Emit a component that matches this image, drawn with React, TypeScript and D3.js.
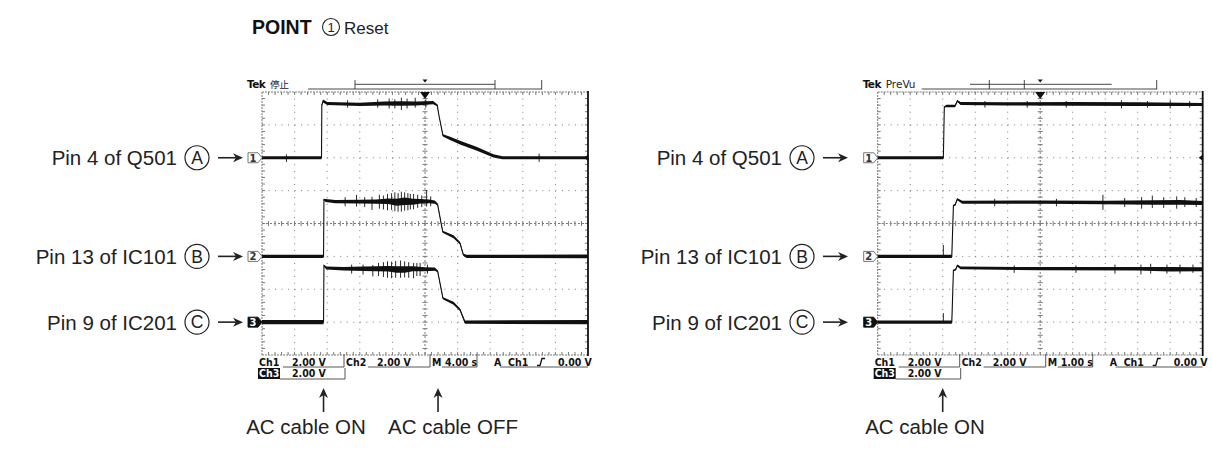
import React from "react";
import * as d3 from "d3";

// ---------- data ----------
// each trace point: [time (s), volts above channel ground, noise half-width (px)]
type P = [number, number, number];
type S = [number, number, number]; // spike: [time, vLow, vHigh]

const TITLE_BOLD = "POINT";
const TITLE_NUM = "1";
const TITLE_REST = "Reset";

const PIN_LABELS = ["Pin 4 of Q501", "Pin 13 of IC101", "Pin 9 of IC201"];
const PIN_LETTERS = ["A", "B", "C"];
const CH_NUMS = ["1", "2", "3"];
const CH_GROUND_DIV = [2, 5, 7]; // divisions from top of screen

const LEFT_SEC_PER_DIV = 4;
const RIGHT_SEC_PER_DIV = 1;

const L_CH1: P[] = [
  [0, 0, 1.6], [7.3, 0, 1.6], [7.34, 3.2, 0.8], [7.5, 3.45, 1.5], [8, 3.3, 1.6], [12, 3.25, 1.7],
  [15, 3.3, 1.9], [17, 3.3, 2.3], [19, 3.3, 2], [21, 3.35, 1.6], [21.5, 3.2, 1], [21.7, 2.6, 0.6],
  [22.2, 1.36, 1.2], [23, 1.2, 1.6], [24.3, 0.92, 1.9], [26.3, 0.56, 1.9], [28.4, 0.11, 1.6],
  [29.5, 0, 1.6], [40, 0, 1.6],
];
const L_CH2: P[] = [
  [0, 0, 1.6], [7.55, 0, 1.6], [7.6, 3.45, 0.8], [7.8, 3.4, 1.5], [9, 3.33, 1.6], [12, 3.33, 1.8],
  [14, 3.33, 2.2], [15.5, 3.35, 2.8], [16.5, 3.3, 3.5], [17.5, 3.35, 3.8], [18.5, 3.33, 3], [19.5, 3.35, 2.2],
  [20.5, 3.35, 1.9], [21.2, 3.3, 1.6], [21.55, 3.15, 1], [22.17, 1.5, 1], [23.5, 1.2, 1.5], [24.3, 0.8, 1.2],
  [24.7, 0.1, 1], [25.1, 0, 1.6], [40, 0, 1.8],
];
const L_CH3: P[] = [
  [0, 0, 2.2], [7.55, 0, 2.2], [7.6, 3.44, 0.8], [7.9, 3.3, 1.5], [10, 3.25, 1.8], [12.5, 3.25, 2.2],
  [14, 3.25, 2.5], [15.5, 3.25, 2.8], [16.5, 3.2, 3.2], [17.5, 3.2, 3.2], [18.5, 3.25, 2.5], [20, 3.22, 2],
  [21.2, 3.22, 1.6], [21.55, 3.1, 1], [22.2, 1.46, 1], [23.5, 1.15, 1.5], [24.3, 0.75, 1.2],
  [24.9, 0, 1.6], [40, 0, 2.2],
];
const L_CH1_SPIKES: S[] = [
  [3.0, -0.25, 0.2], [10.5, 3.05, 3.5], [14.2, 3.05, 3.55], [15.6, 3.0, 3.6], [16.3, 3.0, 3.55],
  [17.1, 2.9, 3.65], [17.8, 3.0, 3.6], [18.8, 3.05, 3.65], [20.1, 3.05, 3.55], [34, -0.25, 0.25],
];
const L_CH2_SPIKES: S[] = [
  [10.2, 3.05, 3.6], [11.6, 3.03, 3.74], [12.6, 3.0, 3.6], [13.5, 2.83, 3.63], [14.4, 2.9, 3.75],
  [14.9, 2.85, 3.7], [15.4, 2.8, 3.8], [15.9, 2.83, 3.84], [16.3, 2.75, 3.9], [16.7, 2.72, 3.85],
  [17.1, 2.72, 3.94], [17.5, 2.78, 3.9], [17.9, 2.8, 3.85], [18.2, 2.85, 3.8], [18.6, 2.87, 3.8],
  [19.1, 2.95, 3.75], [19.6, 3.0, 3.7], [20.2, 3.03, 4.04], [20.7, 3.05, 3.65],
];
const L_CH3_SPIKES: S[] = [
  [11.0, 2.95, 3.5], [12.4, 2.9, 3.5], [13.6, 2.78, 3.48], [14.3, 2.8, 3.6], [14.9, 2.75, 3.65],
  [15.4, 2.7, 3.7], [15.9, 2.67, 3.68], [16.4, 2.7, 3.72], [17.0, 2.7, 3.75], [17.5, 2.72, 3.7],
  [18.0, 2.7, 3.65], [18.6, 2.67, 3.6], [19.0, 2.8, 3.6], [19.4, 2.8, 3.6], [20.3, 2.95, 3.5],
];

const R_CH1: P[] = [
  [0, 0, 1.6], [2.02, 0, 1.6], [2.05, 3.1, 0.6], [2.12, 3.15, 1.2], [2.38, 3.15, 1.2], [2.45, 3.45, 1],
  [2.55, 3.3, 1.5], [4, 3.28, 1.6], [6, 3.28, 1.8], [8, 3.26, 1.8], [10, 3.24, 1.6],
];
const R_CH2: P[] = [
  [0, 0, 1.6], [2.28, 0, 1.6], [2.33, 3.1, 0.6], [2.38, 3.13, 1], [2.45, 3.48, 1], [2.6, 3.3, 1.5],
  [5, 3.3, 1.6], [7, 3.28, 1.8], [8.5, 3.28, 2.2], [9.3, 3.28, 2.4], [10, 3.25, 2],
];
const R_CH3: P[] = [
  [0, 0, 1.6], [2.28, 0, 1.6], [2.33, 3.15, 0.6], [2.4, 3.2, 1], [2.45, 3.44, 1], [2.55, 3.3, 1.3],
  [5, 3.25, 1.6], [8, 3.25, 1.8], [9, 3.22, 2.2], [10, 3.22, 2],
];
const R_CH1_SPIKES: S[] = [
  [3.3, 3.05, 3.45], [4.6, 3.05, 3.45], [5.8, 3.05, 3.45], [7.5, 3.0, 3.5], [8.3, 3.05, 3.45],
  [9.0, 3.0, 3.5], [9.6, 3.05, 3.45],
];
const R_CH2_SPIKES: S[] = [
  [2.02, 0, 0.7], [3.6, 3.05, 3.5], [5.5, 3.05, 3.5], [6.93, 2.83, 3.74], [7.6, 3.0, 3.55],
  [8.12, 2.9, 3.6], [8.45, 2.95, 3.7], [8.8, 2.95, 3.6], [9.2, 2.9, 3.65], [9.45, 3.0, 3.6], [9.8, 3.0, 3.55],
];
const R_CH3_SPIKES: S[] = [
  [2.02, 0, 0.55], [4.2, 3.0, 3.45], [6.1, 3.0, 3.45], [7.3, 2.95, 3.5], [8.1, 2.9, 3.5],
  [8.4, 2.95, 3.55], [8.9, 2.95, 3.5], [9.3, 2.95, 3.5], [9.7, 3.0, 3.5],
];

const LEFT_HEADER = "停止";
const RIGHT_HEADER = "PreVu";
const READ_CH_VOLTS = ["2.00 V", "2.00 V", "2.00 V"];
const LEFT_TIME = "4.00 s";
const RIGHT_TIME = "1.00 s";
const TRIG_LEVEL = "0.00 V";

const LEFT_EVENTS = [
  { t: 7.55, label: "AC cable ON", lx: 306 },
  { t: 21.6, label: "AC cable OFF", lx: 453 },
];
const RIGHT_EVENTS = [{ t: 2.0, label: "AC cable ON", lx: 925 }];

// ---------- layout ----------
const SANS = "'Liberation Sans', Arial, Helvetica, sans-serif";
const TEKF = "'DejaVu Sans', Verdana, sans-serif";
const TEKC = "'DejaVu Sans Condensed', 'DejaVu Sans', Verdana, sans-serif";

interface ScopeCfg {
  x0: number; y0: number; w: number; h: number; secPerDiv: number;
  traces: P[][]; spikes: S[][]; header: string; time: string;
  bracket: [number, number]; upper: [number, number]; longLine: [number, number];
  events: { t: number; label: string; lx: number }[];
  labelEnd: number; circleX: number; arrow: [number, number];
}

const LEFT: ScopeCfg = {
  x0: 262, y0: 92, w: 326, h: 263, secPerDiv: LEFT_SEC_PER_DIV,
  traces: [L_CH1, L_CH2, L_CH3], spikes: [L_CH1_SPIKES, L_CH2_SPIKES, L_CH3_SPIKES],
  header: LEFT_HEADER, time: LEFT_TIME,
  bracket: [355, 495], upper: [355, 495], longLine: [308, 541.7],
  events: LEFT_EVENTS, labelEnd: 177, circleX: 197, arrow: [218, 243],
};
const RIGHT: ScopeCfg = {
  x0: 877.7, y0: 92, w: 325, h: 263, secPerDiv: RIGHT_SEC_PER_DIV,
  traces: [R_CH1, R_CH2, R_CH3], spikes: [R_CH1_SPIKES, R_CH2_SPIKES, R_CH3_SPIKES],
  header: RIGHT_HEADER, time: RIGHT_TIME,
  bracket: [989.3, 1024.3], upper: [970, 1111.7], longLine: [921.7, 1156.7],
  events: RIGHT_EVENTS, labelEnd: 782, circleX: 802, arrow: [823, 848],
};

function Arrow({ x1, x2, y }: { x1: number; x2: number; y: number }) {
  return (
    <g>
      <line x1={x1} x2={x2 - 7} y1={y} y2={y} stroke="#222" strokeWidth={1.6} />
      <path d={`M${x2},${y} L${x2 - 10},${y - 4.5} L${x2 - 7},${y} L${x2 - 10},${y + 4.5} Z`} fill="#222" />
    </g>
  );
}

function UpArrow({ x, y1, y2 }: { x: number; y1: number; y2: number }) {
  return (
    <g>
      <line x1={x} x2={x} y1={y2} y2={y1 + 7} stroke="#222" strokeWidth={1.6} />
      <path d={`M${x},${y1} L${x - 4.5},${y1 + 10} L${x},${y1 + 7} L${x + 4.5},${y1 + 10} Z`} fill="#222" />
    </g>
  );
}

function Scope({ c }: { c: ScopeCfg }) {
  const { x0, y0, w, h } = c;
  const dw = w / 10, dh = h / 8;
  const x = d3.scaleLinear().domain([0, 10 * c.secPerDiv]).range([x0, x0 + w]);
  const grid = "#7a7a7a";
  const els: React.ReactNode[] = [];

  // dotted grid lines
  for (let i = 1; i < 10; i++) {
    if (i === 5) continue;
    const gx = x0 + i * dw;
    els.push(<line key={"gv" + i} x1={gx} x2={gx} y1={y0} y2={y0 + h} stroke={grid} strokeWidth={1} strokeDasharray={`1 ${dh / 5 - 1}`} />);
  }
  for (let j = 1; j < 8; j++) {
    if (j === 4) continue;
    const gy = y0 + j * dh;
    els.push(<line key={"gh" + j} x1={x0} x2={x0 + w} y1={gy} y2={gy} stroke={grid} strokeWidth={1} strokeDasharray={`1 ${dw / 5 - 1}`} />);
  }
  // center cross with ticks
  const cx = x0 + 5 * dw, cy = y0 + 4 * dh;
  els.push(<line key="cx" x1={cx} x2={cx} y1={y0} y2={y0 + h} stroke={grid} strokeWidth={1} strokeDasharray="2 2" />);
  els.push(<line key="cy" x1={x0} x2={x0 + w} y1={cy} y2={cy} stroke={grid} strokeWidth={1} strokeDasharray="2 2" />);
  for (let k = 1; k < 50; k++) {
    const tx = x0 + (k * dw) / 5;
    els.push(<line key={"tcy" + k} x1={tx} x2={tx} y1={cy - 2.5} y2={cy + 2.5} stroke={grid} strokeWidth={1} />);
    els.push(<line key={"ttop" + k} x1={tx} x2={tx} y1={y0} y2={y0 + 3} stroke={grid} strokeWidth={1} />);
    els.push(<line key={"tbot" + k} x1={tx} x2={tx} y1={y0 + h - 3} y2={y0 + h} stroke={grid} strokeWidth={1} />);
  }
  for (let k = 1; k < 40; k++) {
    const ty = y0 + (k * dh) / 5;
    els.push(<line key={"tcx" + k} x1={cx - 2.5} x2={cx + 2.5} y1={ty} y2={ty} stroke={grid} strokeWidth={1} />);
    els.push(<line key={"tl" + k} x1={x0} x2={x0 + 3} y1={ty} y2={ty} stroke={grid} strokeWidth={1} />);
    els.push(<line key={"tr" + k} x1={x0 + w - 3} x2={x0 + w} y1={ty} y2={ty} stroke={grid} strokeWidth={1} />);
  }
  // frame
  els.push(<line key="ft" x1={x0} x2={x0 + w} y1={y0} y2={y0} stroke={grid} strokeWidth={1} strokeDasharray="2 1" />);
  els.push(<line key="fb" x1={x0} x2={x0 + w} y1={y0 + h} y2={y0 + h} stroke={grid} strokeWidth={1} strokeDasharray="2 1" />);
  els.push(<line key="fl" x1={x0} x2={x0} y1={y0} y2={y0 + h} stroke={grid} strokeWidth={1} strokeDasharray="2 1" />);
  els.push(<line key="fr" x1={x0 + w} x2={x0 + w} y1={y0 - 1} y2={y0 + h + 1} stroke="#111" strokeWidth={1.8} />);

  // traces
  c.traces.forEach((tr, i) => {
    const g = y0 + CH_GROUND_DIV[i] * dh;
    const y = d3.scaleLinear().domain([0, 2]).range([g, g - dh]);
    const area = d3.area<P>().x((d) => x(d[0])).y0((d) => y(d[1]) + d[2]).y1((d) => y(d[1]) - d[2]);
    const line = d3.line<P>().x((d) => x(d[0])).y((d) => y(d[1]));
    els.push(<path key={"ta" + i} d={area(tr) || ""} fill="#111" />);
    els.push(<path key={"tl" + i} d={line(tr) || ""} fill="none" stroke="#111" strokeWidth={1.1} />);
    c.spikes[i].forEach((s, k) => {
      els.push(<line key={`sp${i}-${k}`} x1={x(s[0])} x2={x(s[0])} y1={y(s[1])} y2={y(s[2])} stroke="#111" strokeWidth={0.9} />);
    });
    // channel marker
    const mx = x0 - 14;
    const filled = i === 2;
    els.push(
      <path key={"mk" + i} d={`M${mx},${g - 5} L${x0 - 4},${g - 5} L${x0},${g} L${x0 - 4},${g + 5} L${mx},${g + 5} Z`}
        fill={filled ? "#111" : "#fff"} stroke={filled ? "#111" : "#666"} strokeWidth={0.9} />
    );
    els.push(
      <text key={"mt" + i} x={mx + 5} y={g + 3.8} fontFamily={TEKF} fontSize={10} fontWeight={700} textAnchor="middle"
        fill={filled ? "#fff" : "#333"}>{CH_NUMS[i]}</text>
    );
    // left labels
    const ly = g;
    els.push(<text key={"lb" + i} x={c.labelEnd} y={ly + 7.5} fontFamily={SANS} fontSize={20.5} textAnchor="end" fill="#222">{PIN_LABELS[i]}</text>);
    els.push(<circle key={"lc" + i} cx={c.circleX} cy={ly} r={12} fill="none" stroke="#222" strokeWidth={1.2} />);
    els.push(<text key={"ll" + i} x={c.circleX} y={ly + 6.3} fontFamily={SANS} fontSize={17.5} textAnchor="middle" fill="#222">{PIN_LETTERS[i]}</text>);
    els.push(<Arrow key={"la" + i} x1={c.arrow[0]} x2={c.arrow[1]} y={ly} />);
  });

  // trigger markers
  els.push(<path key="trig" d={`M${cx - 5},${y0} L${cx + 5},${y0} L${cx},${y0 + 7} Z`} fill="#111" />);
  const g1 = y0 + CH_GROUND_DIV[0] * dh;
  els.push(<path key="tlev" d={`M${x0 + w - 4},${g1} L${x0 + w + 0.5},${g1 - 3.5} L${x0 + w + 0.5},${g1 + 3.5} Z`} fill="#111" />);

  // header
  els.push(<text key="tek" x={x0 - 15} y={88} fontFamily={TEKF} fontSize={10.5} fontWeight={700} letterSpacing={-0.6} fill="#111">Tek</text>);
  els.push(
    <text key="hdr" x={x0 + 8} y={88} fontFamily={c.header === LEFT_HEADER ? "'Noto Sans CJK JP', sans-serif" : TEKF}
      fontSize={c.header === LEFT_HEADER ? 9.5 : 10.5} fill="#222">{c.header}</text>
  );
  els.push(<line key="ll1" x1={c.longLine[0]} x2={c.longLine[1]} y1={89} y2={89} stroke="#333" strokeWidth={0.9} />);
  els.push(<line key="ll2" x1={c.longLine[1]} x2={c.longLine[1]} y1={80} y2={89.5} stroke="#333" strokeWidth={0.9} />);
  els.push(<line key="up" x1={c.upper[0]} x2={c.upper[1]} y1={84.3} y2={84.3} stroke="#333" strokeWidth={0.9} />);
  els.push(<line key="b1" x1={c.bracket[0]} x2={c.bracket[0]} y1={80} y2={89} stroke="#333" strokeWidth={0.9} />);
  els.push(<line key="b2" x1={c.bracket[1]} x2={c.bracket[1]} y1={80} y2={89} stroke="#333" strokeWidth={0.9} />);
  els.push(<path key="btri" d={`M${cx - 2.5},${79.5} L${cx + 2.5},${79.5} L${cx},${82.5} Z`} fill="#111" />);

  // readout
  const r1 = 365.5, u1 = 367, r2 = 377, u2 = 379;
  const rt = (key: string, tx: number, ty: number, s: string, fill = "#111") => (
    <text key={key} x={tx} y={ty} fontFamily={TEKC} fontSize={10.5} fontWeight={700} fill={fill}>{s}</text>
  );
  const ln = (key: string, a: number, b: number, yy: number) => (
    <line key={key} x1={a} x2={b} y1={yy} y2={yy} stroke="#444" strokeWidth={0.9} />
  );
  const vb = (key: string, xx: number, ya: number, yb: number) => (
    <line key={key} x1={xx} x2={xx} y1={ya} y2={yb} stroke="#444" strokeWidth={0.9} />
  );
  els.push(rt("rc1", x0 - 3, r1, "Ch1"));
  els.push(rt("rv1", x0 + 30, r1, READ_CH_VOLTS[0]));
  els.push(ln("ru1", x0 + 21, x0 + 82, u1));
  els.push(vb("rb1", x0 + 82, 354, u1));
  els.push(rt("rc2", x0 + 84, r1, "Ch2"));
  els.push(rt("rv2", x0 + 115, r1, READ_CH_VOLTS[1]));
  els.push(ln("ru2", x0 + 106, x0 + 168, u1));
  els.push(vb("rb2", x0 + 168, 354, u1));
  els.push(rt("rm", x0 + 170, r1, "M"));
  els.push(rt("rtm", x0 + 183, r1, c.time));
  els.push(ln("ru3", x0 + 180, x0 + 215, u1));
  els.push(vb("rb3", x0 + 215, 354, u1));
  els.push(rt("ra", x0 + 232, r1, "A"));
  els.push(rt("rac", x0 + 246, r1, "Ch1"));
  els.push(
    <path key="rslope" d={`M${x0 + 275},${r1} L${x0 + 278},${r1} L${x0 + 280},${r1 - 7} L${x0 + 283},${r1 - 7}`} fill="none" stroke="#111" strokeWidth={1.3} />
  );
  els.push(rt("rlev", x0 + 296, r1, TRIG_LEVEL));
  els.push(ln("ru4", x0 + 238, x0 + w, u1));
  els.push(<rect key="c3bg" x={x0 - 4} y={368} width={22} height={11} fill="#111" />);
  els.push(rt("rc3", x0 - 3, r2, "Ch3", "#fff"));
  els.push(rt("rv3", x0 + 30, r2, READ_CH_VOLTS[2]));
  els.push(ln("ru5", x0 + 18, x0 + 83, u2));
  els.push(vb("rb5", x0 + 83, 368, u2));

  // events
  c.events.forEach((e, i) => {
    els.push(<UpArrow key={"ea" + i} x={x(e.t)} y1={388} y2={412} />);
    els.push(<text key={"et" + i} x={e.lx} y={434} fontFamily={SANS} fontSize={20.5} textAnchor="middle" fill="#222">{e.label}</text>);
  });

  return <g>{els}</g>;
}

export default function App() {
  return (
    <svg width={1212} height={469} viewBox="0 0 1212 469" style={{ display: "block", position: "absolute", left: 0, top: 0, background: "#fff" }}>
      <rect x={0} y={0} width={1212} height={469} fill="#fff" />
      <text x={252} y={34} fontFamily={SANS} fontSize={19.5} fontWeight={700} fill="#111">{TITLE_BOLD}</text>
      <circle cx={331} cy={27} r={8.5} fill="none" stroke="#222" strokeWidth={1.1} />
      <text x={331} y={31.5} fontFamily={SANS} fontSize={13} textAnchor="middle" fill="#222">{TITLE_NUM}</text>
      <text x={344} y={34} fontFamily={SANS} fontSize={17} fill="#222">{TITLE_REST}</text>
      <Scope c={LEFT} />
      <Scope c={RIGHT} />
    </svg>
  );
}
